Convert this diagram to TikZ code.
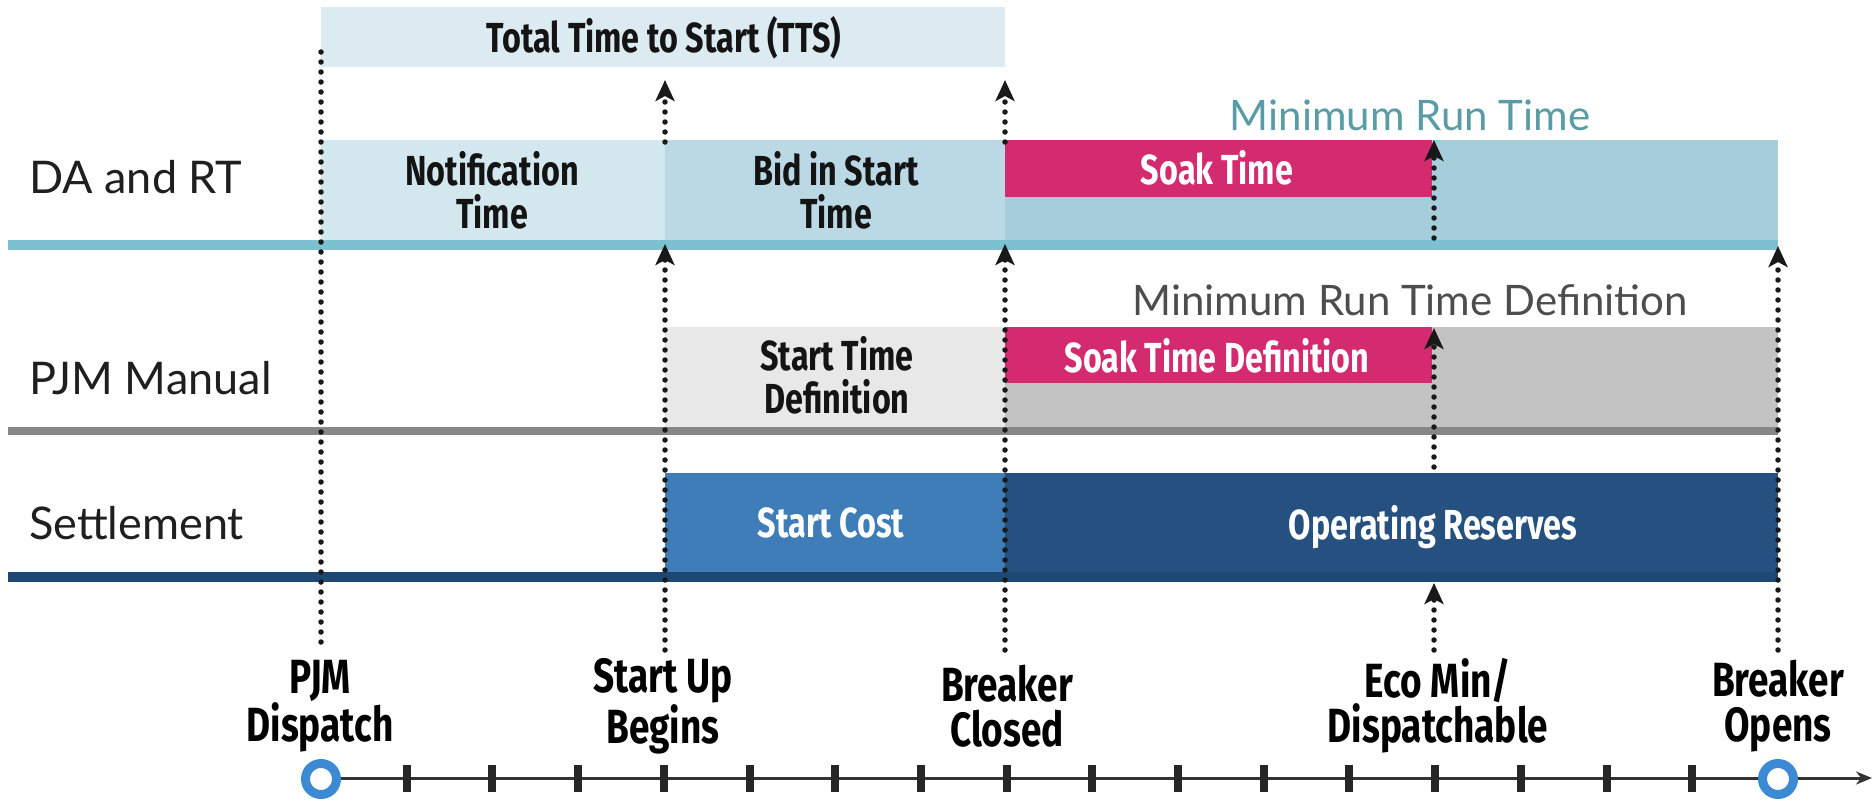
\documentclass[tikz,border=0pt]{standalone}
\usepackage{fontspec}
\setmainfont{Lato}
\newfontfamily\condfont{Fira Sans}[FakeStretch=0.77]
\usetikzlibrary{arrows.meta}
\definecolor{ttsblue}{HTML}{DCEBF2}
\definecolor{notifblue}{HTML}{D3E7EF}
\definecolor{bidblue}{HTML}{BBD9E5}
\definecolor{mrtblue}{HTML}{A5CEDA}
\definecolor{daline}{HTML}{7DC1D1}
\definecolor{soakpink}{HTML}{D42A70}
\definecolor{stdgray}{HTML}{E8E8E8}
\definecolor{midgray}{HTML}{C3C3C3}
\definecolor{pjmline}{HTML}{878787}
\definecolor{costblue}{HTML}{3F7DB9}
\definecolor{resnavy}{HTML}{26507F}
\definecolor{setline}{HTML}{1E4874}
\definecolor{mrttext}{HTML}{5A9CA6}
\definecolor{mrtdtext}{HTML}{4D4D4D}
\definecolor{ringblue}{HTML}{3D8AD4}
\begin{document}
\begin{tikzpicture}[x=1pt,y=-1pt,
  rowlabel/.style={anchor=west, inner sep=0pt, font=\fontsize{45}{50}\selectfont, text=black!88},
  bartext/.style={align=center, inner sep=0pt, text=black!92, font=\condfont\bfseries\fontsize{42}{43}\selectfont},
  whitetext/.style={bartext, text=white},
  axislabel/.style={align=center, inner sep=0pt, text=black, font=\condfont\bfseries\fontsize{48}{45}\selectfont},
  mrtlabel/.style={inner sep=0pt, font=\fontsize{42}{46}\selectfont},
  dots/.style={line width=5.5pt, line cap=round, dash pattern=on 0pt off 10pt, black!90},
  uparrow/.style={dots, -{Stealth[length=21pt,width=19pt,inset=5pt]}},
  tickmark/.style={fill=black!85, draw=none, minimum width=8pt, minimum height=27pt, inner sep=0pt},
  ring/.style={circle, draw=ringblue, line width=9pt, fill=white, minimum size=31pt, inner sep=0pt}
]
\useasboundingbox (0,0) rectangle (1875,806);
\fill[white] (0,0) rectangle (1875,806);

% Total time to start
\fill[ttsblue] (321,7) rectangle (1005,67);
\node[bartext] (tts) at (664,38) {Total Time to Start (TTS)};

% DA and RT row
\fill[notifblue] (321,140) rectangle (665,245);
\fill[bidblue] (665,140) rectangle (1005,245);
\fill[mrtblue] (1005,140) rectangle (1778,245);
\fill[soakpink] (1005,140) rectangle (1432,197);
\fill[daline] (8,240) rectangle (1778,250);
\node[rowlabel] (darow) at (29,177) {DA and RT};
\node[bartext] (notif) at (492,190) {Notification\\Time};
\node[bartext] (bid) at (836,190) {Bid in Start\\Time};
\node[whitetext] (soak) at (1217,168) {Soak Time};
\node[mrtlabel, text=mrttext] (mrt) at (1410,115) {Minimum Run Time};

% PJM Manual row
\fill[stdgray] (665,327) rectangle (1005,428);
\fill[midgray] (1005,327) rectangle (1778,428);
\fill[soakpink] (1005,327) rectangle (1432,383);
\fill[pjmline] (8,427) rectangle (1778,435);
\node[rowlabel] (pjmrow) at (29,378) {PJM Manual};
\node[bartext] (stdef) at (837,375) {Start Time\\Definition};
\node[whitetext] (soakdef) at (1217,356) {Soak Time Definition};
\node[mrtlabel, text=mrtdtext] (mrtdef) at (1410,300) {Minimum Run Time Definition};

% Settlement row
\fill[costblue] (665,473) rectangle (1005,577);
\fill[resnavy] (1005,473) rectangle (1778,577);
\fill[setline] (8,572) rectangle (1778,582);
\node[rowlabel] (setrow) at (29,523) {Settlement};
\node[whitetext] (cost) at (831,523) {Start Cost};
\node[whitetext] (opres) at (1433,527) {Operating Reserves};

% dotted guide lines
\coordinate (d0a) at (321,52); \coordinate (d0b) at (321,648);
\draw[dots] (d0a) -- (d0b);

\coordinate (d1tip) at (665,80); \coordinate (d1top) at (665,142);
\coordinate (d1band) at (665,244); \coordinate (d1bot) at (665,650);
\draw[uparrow] (d1top) -- (d1tip);
\draw[uparrow] (d1bot) -- (d1band);

\coordinate (d2tip) at (1005,80); \coordinate (d2top) at (1005,142);
\coordinate (d2band) at (1005,244); \coordinate (d2bot) at (1005,650);
\draw[uparrow] (d2top) -- (d2tip);
\draw[uparrow] (d2bot) -- (d2band);

\coordinate (d3a) at (1434,238); \coordinate (d3atip) at (1434,140);
\coordinate (d3b) at (1434,467); \coordinate (d3btip) at (1434,328);
\coordinate (d3c) at (1434,650); \coordinate (d3ctip) at (1434,583);
\draw[uparrow] (d3a) -- (d3atip);
\draw[uparrow] (d3b) -- (d3btip);
\draw[uparrow] (d3c) -- (d3ctip);

\coordinate (d4bot) at (1778,650); \coordinate (d4tip) at (1778,246);
\draw[uparrow] (d4bot) -- (d4tip);

% time axis
\coordinate (axisstart) at (321,778);
\coordinate (axisend) at (1872,778);
\draw[line width=3pt, black!80, -{Stealth[length=16pt,width=13pt]}] (axisstart) -- (axisend);
\foreach \k in {1,...,16} \node[tickmark] (t\k) at ({321+\k*85.7},778) {};
\node[ring] (c0) at (321,779) {};
\node[ring] (c17) at (1778,779) {};

\node[axislabel] (l0) at (320,706) {PJM\\Dispatch};
\node[axislabel] (l1) at (663,706) {Start Up\\Begins};
\node[axislabel] (l2) at (1007,706) {Breaker\\Closed};
\node[axislabel] (l3) at (1438,706) {Eco Min/\\Dispatchable};
\node[axislabel] (l4) at (1778,706) {Breaker\\Opens};
\end{tikzpicture}
\end{document}
